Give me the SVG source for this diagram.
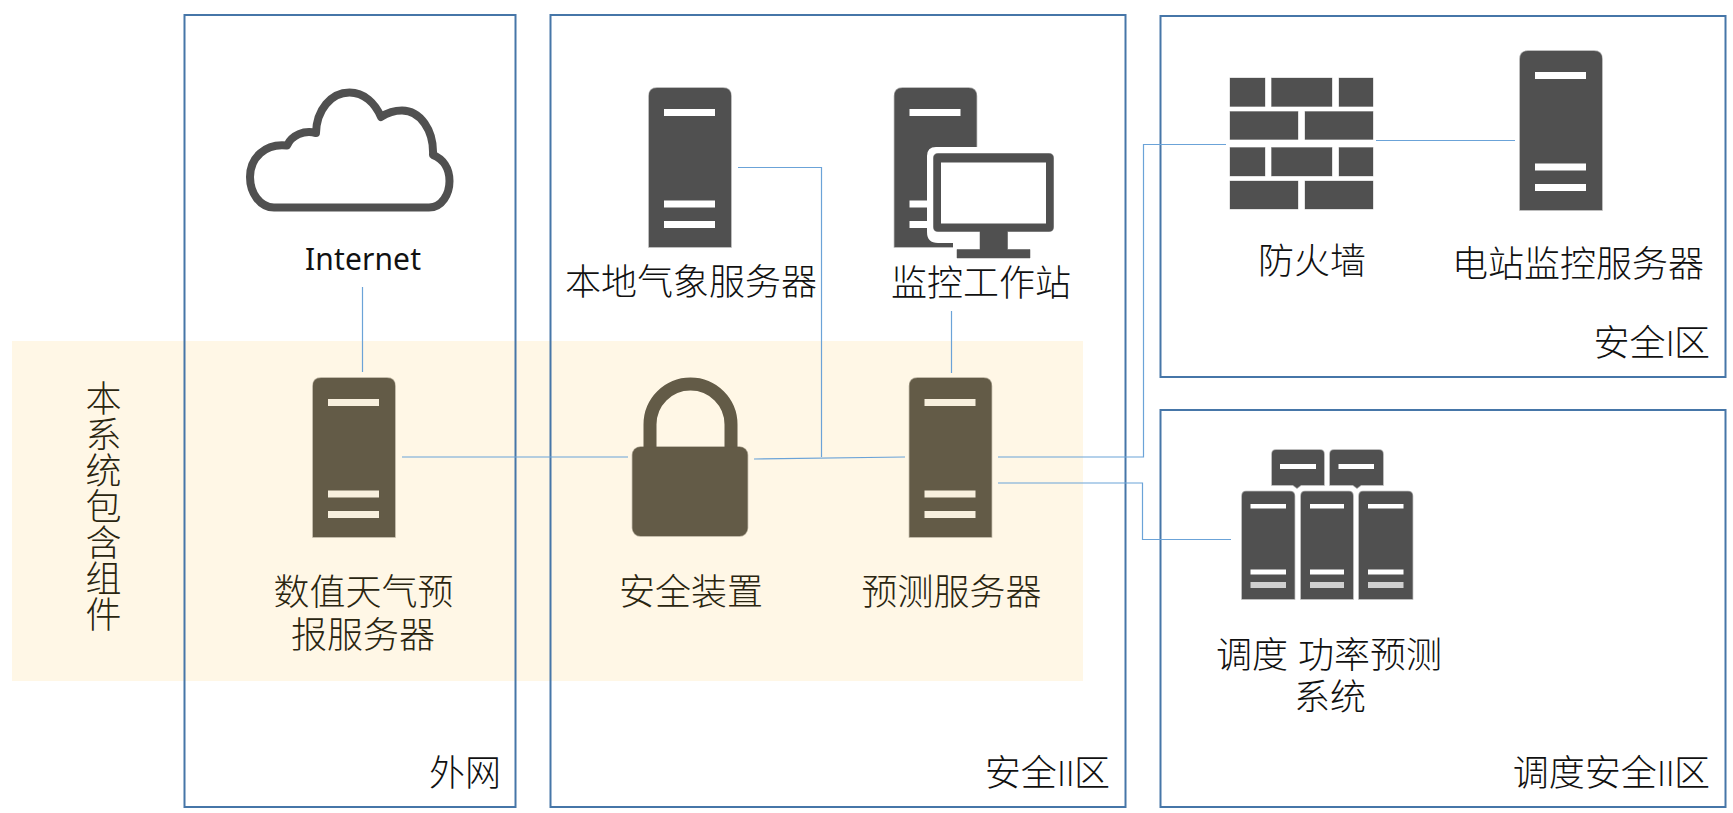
<svg xmlns="http://www.w3.org/2000/svg" width="1733" height="813" viewBox="0 0 1733 813">
<style>
text{font-family:"Liberation Sans","Noto Sans CJK SC",sans-serif;font-size:36px;font-weight:300;fill:#111;text-anchor:middle}
.warm text,text.warm{fill:#2a2510}
.end{text-anchor:end}
.roman{font-family:Lato,"Liberation Sans",sans-serif;font-weight:300;letter-spacing:-.8px}
.zone{fill:none;stroke:#4676a8;stroke-width:2}
.grey{fill:#505050;stroke:#505050;stroke-opacity:.5;stroke-width:1.5;color:#fff}
.brown{fill:#635b47;stroke:#635b47;stroke-opacity:.5;stroke-width:1.5;color:#f8f0de}
.bar{fill:currentColor;stroke:none}
#connectors path{fill:none;stroke:#6ba3d8;stroke-width:1.2}
</style>
<defs>
<symbol id="srv" width="84" height="161" viewBox="-1 -1 84 161" overflow="visible">
<path d="M0,8Q0,0 8,0H74Q82,0 82,8V159H0Z"/>
<rect class="bar" x="15" y="21" width="51" height="7"/>
<rect class="bar" x="15" y="112.5" width="51" height="7"/>
<rect class="bar" x="15" y="133" width="51" height="7"/>
</symbol>
</defs>
<rect id="band" x="12" y="341" width="1071" height="340" fill="#fff7e6"/>
<g id="zone-external"><rect class="zone" x="184.5" y="15" width="331" height="792"/><text x="465" y="786">外网</text></g>
<g id="zone-safe2"><rect class="zone" x="550.5" y="15" width="575" height="792"/><text class="end" x="1110" y="786">安全<tspan class="roman">II</tspan>区</text></g>
<g id="zone-safe1"><rect class="zone" x="1160.5" y="16" width="565" height="361"/><text class="end" x="1710" y="356">安全<tspan class="roman">I</tspan>区</text></g>
<g id="zone-dispatch"><rect class="zone" x="1160.5" y="410" width="565" height="397"/><text class="end" x="1710" y="786">调度安全<tspan class="roman">II</tspan>区</text></g>
<g id="connectors">
<path d="M362.5,287V372"/>
<path d="M402,457H628"/>
<path d="M754,459L905,457"/>
<path d="M738,167.5H821.5V457"/>
<path d="M951.5,311V373"/>
<path d="M998,457H1143.5V144.5H1226"/>
<path d="M998,483H1142.5V539.5H1231"/>
<path d="M1376,140.5H1515"/>
</g>
<g id="system-label"><text class="warm" x="100" y="380" style="writing-mode:vertical-rl;text-anchor:start">本系统包含组件</text></g>
<g id="internet">
<path d="M274,207.5H429C442,207.5 449.5,194 449.5,181C449.5,168 443,159 433,155C434,130 420,110.5 402,110.5C394,110.5 387,113 381,117C375,103 364,92.5 349.5,92.5C331,92.5 316.5,110 316,133C304,130 292,135 287,145.5C265,143 250,158 250,177C250,193 260,207.5 274,207.5Z" fill="none" stroke="#505050" stroke-width="8" stroke-linejoin="round"/>
<text x="363" y="269.5" textLength="116" style="font-family:'Noto Sans',sans-serif;font-size:30px;font-weight:400">Internet</text>
</g>
<g id="nwp-server" class="warm"><use href="#srv" class="brown" x="312" y="377"/><text x="363.5" y="605">数值天气预</text><text x="363" y="647.5">报服务器</text></g>
<g id="local-weather-server"><use href="#srv" class="grey" x="648" y="87"/><text x="691" y="295">本地气象服务器</text></g>
<g id="monitor-workstation">
<use href="#srv" class="grey" x="893.5" y="87"/>
<path d="M936,147H1057V238H1035V263H953V243H938Q927,243 927,232V156Q927,147 936,147Z" fill="#fff"/>
<path d="M938,153.5H1049Q1053.5,153.5 1053.5,158V227Q1053.5,231.5 1049,231.5H1007.5V249.5H1030V258H957V249.5H980V231.5H938Q933.5,231.5 933.5,227V158Q933.5,153.5 938,153.5Z" fill="#505050" stroke="#505050" stroke-opacity=".5"/>
<rect x="941" y="162.5" width="105" height="61" fill="#fff"/>
<text x="981" y="296">监控工作站</text>
</g>
<g id="firewall">
<g fill="#505050" stroke="#505050" stroke-opacity=".4" stroke-width=".8">
<rect x="1230" y="78" width="35" height="28.5"/><rect x="1271.5" y="78" width="60.5" height="28.5"/><rect x="1339" y="78" width="34" height="28.5"/>
<rect x="1230" y="111.5" width="68" height="28"/><rect x="1305" y="111.5" width="68" height="28"/>
<rect x="1230" y="147.5" width="35" height="28.5"/><rect x="1271.5" y="147.5" width="60.5" height="28.5"/><rect x="1339" y="147.5" width="34" height="28.5"/>
<rect x="1230" y="181" width="68" height="28"/><rect x="1305" y="181" width="68" height="28"/>
</g>
<text x="1312" y="274">防火墙</text>
</g>
<g id="plant-monitor-server"><use href="#srv" class="grey" x="1519" y="50"/><text x="1578" y="276.5">电站监控服务器</text></g>
<g id="security-device" class="warm">
<path d="M650,447V424.5A40.5,40.5 0 0 1 731,424.5V447" fill="none" stroke="#635b47" stroke-width="13"/>
<rect x="632.5" y="447" width="115" height="89" rx="8" fill="#635b47" stroke="#635b47" stroke-opacity=".5" stroke-width="1.5"/>
<text x="691" y="604.5">安全装置</text>
</g>
<g id="forecast-server" class="warm"><use href="#srv" class="brown" x="908.5" y="377"/><text x="951.5" y="604.5">预测服务器</text></g>
<g id="dispatch-system">
<g fill="#505050" stroke="#505050" stroke-opacity=".5" stroke-width="1.5">
<path d="M1276,450H1320Q1324,450 1324,454V485H1301L1297,488L1293,485H1272V454Q1272,450 1276,450Z"/>
<path d="M1334,450H1379Q1383,450 1383,454V485H1361L1357,488L1353,485H1330V454Q1330,450 1334,450Z"/>
<path d="M1246,491.5H1290Q1294.5,491.5 1294.5,496V599H1242V496Q1242,491.5 1246,491.5Z"/>
<path d="M1305,491.5H1349Q1353,491.5 1353,496V599H1301V496Q1301,491.5 1305,491.5Z"/>
<path d="M1363,491.5H1408Q1412.5,491.5 1412.5,496V599H1359V496Q1359,491.5 1363,491.5Z"/>
</g>
<g fill="#fff">
<rect x="1280" y="464" width="36" height="5"/><rect x="1338.5" y="464" width="35.5" height="5"/>
<rect x="1250.5" y="504" width="35.5" height="4.5"/><rect x="1310" y="504" width="34" height="4.5"/><rect x="1368" y="504" width="35.5" height="4.5"/>
<rect x="1250.5" y="569.5" width="35.5" height="5"/><rect x="1310" y="569.5" width="34" height="5"/><rect x="1368" y="569.5" width="35.5" height="5"/>
</g>
<g fill="#d0d0d0">
<rect x="1250.5" y="582" width="35.5" height="6"/><rect x="1310" y="582" width="34" height="6"/><rect x="1368" y="582" width="35.5" height="6"/>
</g>
<text x="1329" y="668">调度 功率预测</text><text x="1330" y="710">系统</text>
</g>
</svg>
